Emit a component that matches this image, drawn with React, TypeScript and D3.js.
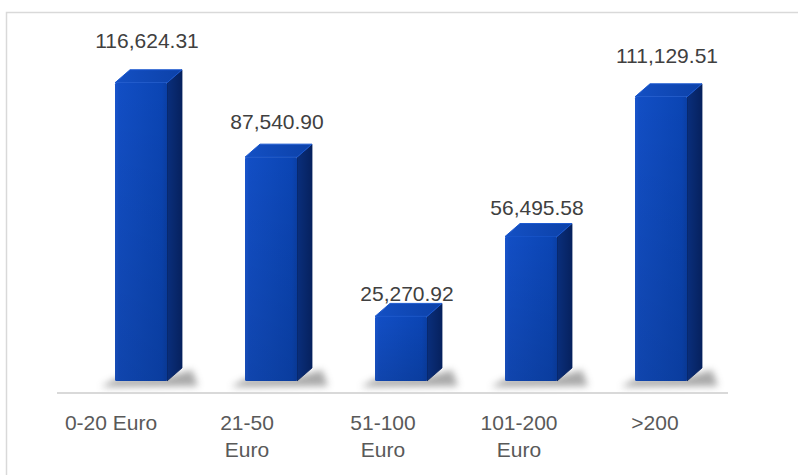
import React from "react";
import * as d3 from "d3";

const categories = ["0-20 Euro", "21-50 Euro", "51-100 Euro", "101-200 Euro", ">200"];
const categoryLines = [["0-20 Euro"], ["21-50", "Euro"], ["51-100", "Euro"], ["101-200", "Euro"], [">200"]];
const values = [116624.31, 87540.9, 25270.92, 56495.58, 111129.51];
const valueLabels = ["116,624.31", "87,540.90", "25,270.92", "56,495.58", "111,129.51"];

const W = 798;
const H = 475;

export default function App() {
  // bars sit deeper in the 3D scene than the front-edge axis labels (perspective)
  const x = d3.scaleBand<string>().domain(categories).range([60, 710]);
  const xFront = d3.scaleBand<string>().domain(categories).range([43, 723]);
  const y = d3.scaleLinear().domain([0, 140000]).range([381, 23]);
  const labelY = d3.scaleLinear().domain([0, 140000]).range([371, -16.7]);
  const base = y(0);
  const fw = 52;
  const dx = 15;
  const dy = 13;
  const off = 55;
  const font = "'Liberation Sans', Arial, sans-serif";

  return (
    <div style={{ position: "fixed", left: 0, top: 0 }}>
      <svg width={W} height={H} style={{ display: "block" }}>
        <defs>
          <linearGradient id="front" x1="0" y1="0" x2="1" y2="0">
            <stop offset="0" stopColor="#1a55cc" />
            <stop offset="0.08" stopColor="#124ec4" />
            <stop offset="0.9" stopColor="#0b45b4" />
            <stop offset="1" stopColor="#0a3fa6" />
          </linearGradient>
          <linearGradient id="frontV" x1="0" y1="0" x2="0" y2="1">
            <stop offset="0" stopColor="#000" stopOpacity="0" />
            <stop offset="1" stopColor="#000" stopOpacity="0.12" />
          </linearGradient>
          <linearGradient id="side" x1="0" y1="0" x2="1" y2="0">
            <stop offset="0" stopColor="#0a2f7c" />
            <stop offset="1" stopColor="#06215e" />
          </linearGradient>
          <linearGradient id="top" x1="0" y1="0" x2="1" y2="0">
            <stop offset="0" stopColor="#1450c4" />
            <stop offset="1" stopColor="#0c41a8" />
          </linearGradient>
          <filter id="blur" x="-50%" y="-100%" width="200%" height="300%">
            <feGaussianBlur stdDeviation="3.5" />
          </filter>
        </defs>
        <rect x={6.5} y={12.5} width={W + 10} height={H + 10} fill="#fff" stroke="#d9d9d9" strokeWidth={1.5} />
        {categories.map((c, i) => {
          const fl = (x(c) ?? 0) + off;
          return (
            <polygon
              key={"sh" + i}
              points={`${fl - 14},${base + 6} ${fl + fw + dx + 16},${base + 5} ${fl + fw + dx + 10},${base - dy + 2} ${fl + fw},${base - 4} ${fl},${base - 2}`}
              fill="#555"
              opacity={0.5}
              filter="url(#blur)"
            />
          );
        })}
        <line x1={57} x2={728} y1={393} y2={393} stroke="#d9d9d9" strokeWidth={2} />
        {categories.map((c, i) => {
          const fl = (x(c) ?? 0) + off;
          const t = y(values[i]);
          return (
            <g key={c}>
              <polygon
                points={`${fl + fw},${t} ${fl + fw + dx},${t - dy} ${fl + fw + dx},${base - dy} ${fl + fw},${base}`}
                fill="url(#side)"
                stroke="#06215e"
                strokeWidth={0.8}
                strokeLinejoin="round"
              />
              <polygon
                points={`${fl},${t} ${fl + dx},${t - dy} ${fl + fw + dx},${t - dy} ${fl + fw},${t}`}
                fill="url(#top)"
                stroke="#1a58d0"
                strokeWidth={1}
                strokeLinejoin="round"
              />
              <rect x={fl} y={t} width={fw} height={base - t} fill="url(#front)" rx={1.5} />
              <rect x={fl} y={t} width={fw} height={base - t} fill="url(#frontV)" rx={1.5} />
              <text
                x={fl + fw / 2 + 6}
                y={labelY(values[i])}
                textAnchor="middle"
                fontFamily={font}
                fontSize={21}
                fill="#404040"
              >
                {valueLabels[i]}
              </text>
              <text textAnchor="middle" fontFamily={font} fontSize={21} fill="#595959">
                {categoryLines[i].map((ln, j) => (
                  <tspan key={j} x={(xFront(c) ?? 0) + xFront.bandwidth() / 2} y={430 + j * 27}>
                    {ln}
                  </tspan>
                ))}
              </text>
            </g>
          );
        })}
      </svg>
    </div>
  );
}
